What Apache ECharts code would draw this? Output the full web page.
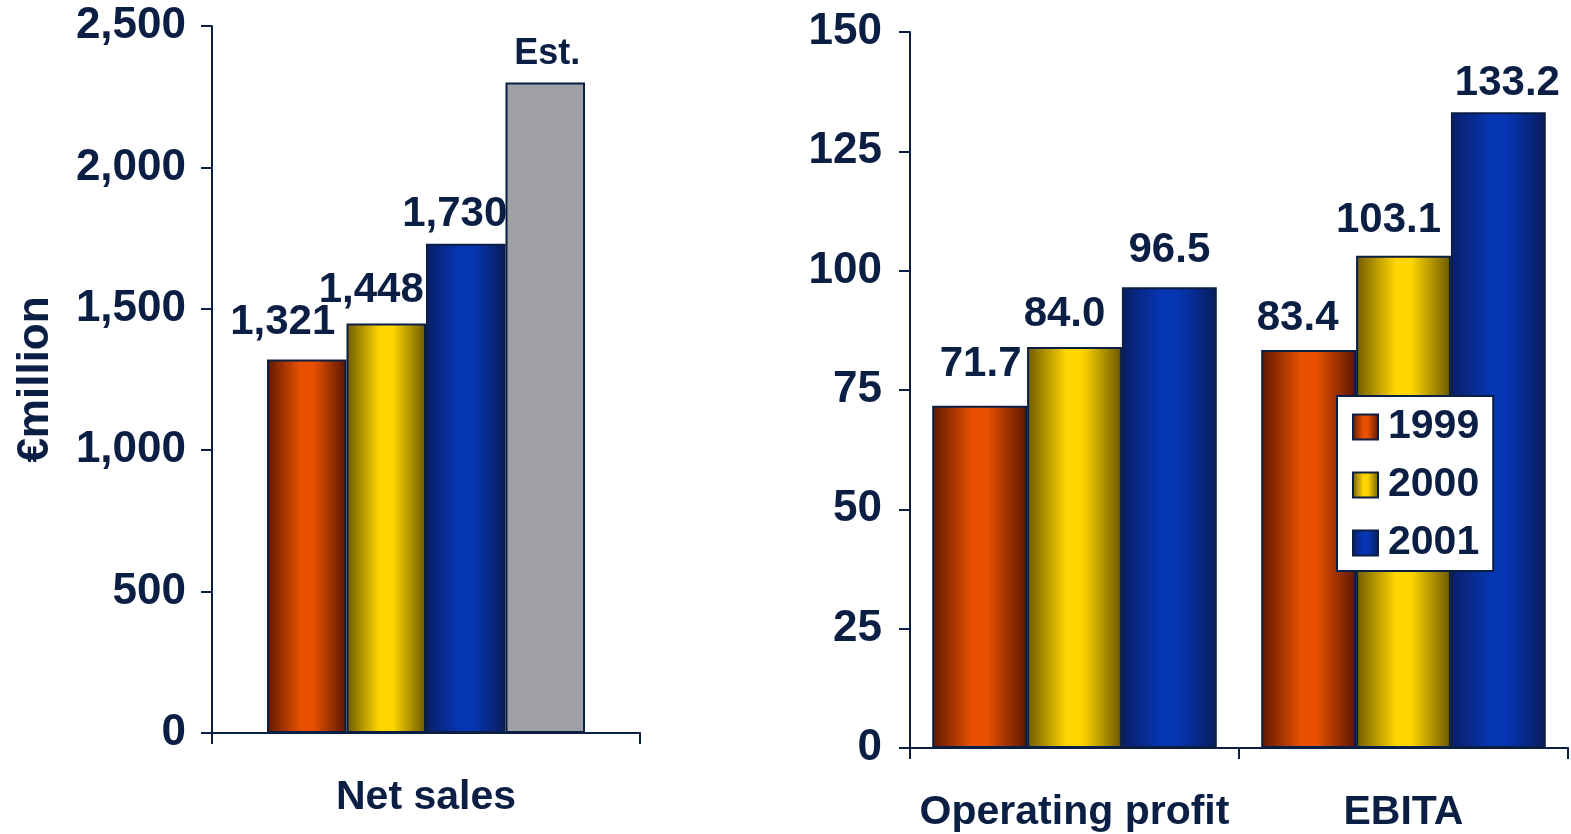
<!DOCTYPE html>
<html>
<head>
<meta charset="utf-8">
<script src="https://cdn.jsdelivr.net/npm/echarts@6/dist/echarts.min.js"></script>
<style>
  html, body { margin: 0; padding: 0; background: #fff; }
  #chart { width: 1571px; height: 834px; }
</style>
</head>
<body>
<div id="chart"></div>
<script>
// Data
const leftCategories = ['Net sales'];
const rightCategories = ['Operating profit', 'EBITA'];
const years = ['1999', '2000', '2001'];
const netSales = { '1999': [1321], '2000': [1448], '2001': [1730] };
const netSalesEst = [2300];
const operatingAndEbita = { '1999': [71.7, 83.4], '2000': [84.0, 103.1], '2001': [96.5, 133.2] };
const leftTicks = { min: 0, max: 2500, interval: 500 };
const rightTicks = { min: 0, max: 150, interval: 25 };

// Label nudges [dx, dy] per bar, so the value text sits where the slide had it
const leftLabelShift = { '1999': [[-24, -6]], '2000': [[-15, -2]], '2001': [[-11, 2]] };
const rightLabelShift = {
  '1999': [[1, -10], [-11, 0]],
  '2000': [[-10, -2], [-15, -4]],
  '2001': [[0, -6], [9, 2]]
};

const navy = '#0b1f44';
const font = '"Liberation Sans", Arial, sans-serif';

function barGradient(edgeL, mid, edgeR) {
  return new echarts.graphic.LinearGradient(0, 0, 1, 0, [
    { offset: 0, color: edgeL },
    { offset: 0.42, color: mid },
    { offset: 0.58, color: mid },
    { offset: 1, color: edgeR }
  ]);
}
const yearColors = {
  '1999': barGradient('#5e1800', '#e85000', '#5a1600'),
  '2000': barGradient('#6e5a00', '#ffd600', '#6a5700'),
  '2001': barGradient('#0a1e66', '#0636b4', '#081c5e')
};

const fmtThousands = v => v.toLocaleString('en-US');
const fmtOneDec = v => v.toFixed(1);

const labelStyle = {
  show: true, position: 'top', distance: 10,
  color: navy, fontFamily: font, fontWeight: 'bold', fontSize: 42
};

function withShift(values, shifts) {
  return values.map((v, i) => ({ value: v, label: { offset: shifts[i] } }));
}

const series = [];
years.forEach(y => {
  series.push({
    name: y, type: 'bar', xAxisIndex: 0, yAxisIndex: 0,
    data: withShift(netSales[y], leftLabelShift[y]), barGap: '0%', barCategoryGap: '25.7%',
    itemStyle: { color: yearColors[y], borderColor: navy, borderWidth: 2 },
    label: Object.assign({}, labelStyle, { formatter: p => fmtThousands(p.value) })
  });
});
series.push({
  name: 'Est.', type: 'bar', xAxisIndex: 0, yAxisIndex: 0,
  data: netSalesEst, barGap: '0%', barCategoryGap: '25.7%',
  itemStyle: { color: '#a0a1a5', borderColor: navy, borderWidth: 2 },
  label: Object.assign({}, labelStyle, { fontSize: 36, distance: 10, offset: [2, 0], formatter: 'Est.' })
});
years.forEach(y => {
  series.push({
    name: y, type: 'bar', xAxisIndex: 1, yAxisIndex: 1,
    data: withShift(operatingAndEbita[y], rightLabelShift[y]), barGap: '0%', barCategoryGap: '13.5%',
    itemStyle: { color: yearColors[y], borderColor: navy, borderWidth: 2 },
    label: Object.assign({}, labelStyle, { formatter: p => fmtOneDec(p.value) })
  });
});

const axisLine = { show: true, lineStyle: { color: navy, width: 2 } };
const axisTick = { show: true, length: 11, lineStyle: { color: navy, width: 2 } };
const axisTextStyle = { color: navy, fontFamily: font, fontWeight: 'bold' };

const chart = echarts.init(document.getElementById('chart'));
chart.setOption({
  animation: false,
  backgroundColor: '#fff',
  grid: [
    { left: 212, top: 26, width: 428, height: 707 },
    { left: 910, top: 32, width: 658, height: 716 }
  ],
  xAxis: [
    {
      type: 'category', gridIndex: 0, data: leftCategories,
      axisLine, axisTick,
      axisLabel: Object.assign({}, axisTextStyle, { fontSize: 41, margin: 44, interval: 0 })
    },
    {
      type: 'category', gridIndex: 1, data: rightCategories,
      axisLine, axisTick,
      axisLabel: Object.assign({}, axisTextStyle, { fontSize: 41, margin: 44, interval: 0, hideOverlap: false })
    }
  ],
  yAxis: [
    {
      type: 'value', gridIndex: 0, min: leftTicks.min, max: leftTicks.max, interval: leftTicks.interval,
      splitLine: { show: false }, axisLine, axisTick,
      axisLabel: Object.assign({}, axisTextStyle, { fontSize: 44, margin: 26, formatter: v => fmtThousands(v) }),
      name: '€million', nameLocation: 'middle', nameGap: 154, nameRotate: 90,
      nameTextStyle: Object.assign({}, axisTextStyle, { fontSize: 44 })
    },
    {
      type: 'value', gridIndex: 1, min: rightTicks.min, max: rightTicks.max, interval: rightTicks.interval,
      splitLine: { show: false }, axisLine, axisTick,
      axisLabel: Object.assign({}, axisTextStyle, { fontSize: 44, margin: 28 })
    }
  ],
  legend: {
    data: years,
    orient: 'vertical',
    left: 1337, top: 396,
    backgroundColor: '#fff',
    borderColor: navy, borderWidth: 2, borderRadius: 0,
    padding: [10, 14, 7, 15],
    itemWidth: 25, itemHeight: 25, itemGap: 16,
    icon: 'rect',
    selectedMode: false,
    itemStyle: { borderColor: navy, borderWidth: 2 },
    textStyle: { color: navy, fontFamily: font, fontWeight: 'bold', fontSize: 41, lineHeight: 42, padding: [0, 0, 0, 5] }
  },
  series
});
</script>
</body>
</html>
